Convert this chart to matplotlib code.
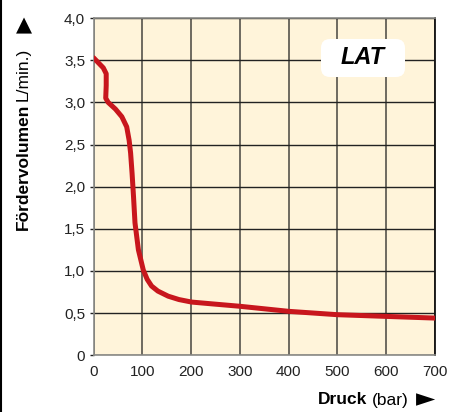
import matplotlib
matplotlib.use("Agg")
import matplotlib.pyplot as plt
from matplotlib.patches import FancyBboxPatch
from matplotlib.lines import Line2D

# data
druck = [0, 10, 20, 26, 26, 25, 30, 45, 58, 68, 73, 76, 79, 82, 85, 92, 102,
         110, 119, 132, 153, 175, 201, 250, 300, 400, 500, 600, 700]
volumen = [3.53, 3.47, 3.41, 3.34, 3.20, 3.05, 3.00, 2.92, 2.83, 2.71, 2.55,
           2.40, 2.16, 1.88, 1.57, 1.25, 1.01, 0.90, 0.82, 0.76, 0.70, 0.66,
           0.63, 0.605, 0.58, 0.52, 0.48, 0.46, 0.44]
xticks = [0, 100, 200, 300, 400, 500, 600, 700]
yticks = [0, 0.5, 1.0, 1.5, 2.0, 2.5, 3.0, 3.5, 4.0]
ytick_labels = ["0", "0,5", "1,0", "1,5", "2,0", "2,5", "3,0", "3,5", "4,0"]

plt.rcParams["font.family"] = ["Liberation Sans", "DejaVu Sans"]

fig = plt.figure(figsize=(4.63, 4.12), dpi=100)
ax = fig.add_axes([0.202, 0.138, 0.7375, 0.818])
ax.set_facecolor("#fff4da")

ax.plot(druck, volumen, color="#c8161d", linewidth=3.6,
        solid_joinstyle="round", solid_capstyle="round", zorder=3)

ax.set_xlim(0, 700)
ax.set_ylim(0, 4.0)
ax.set_xticks(xticks)
ax.set_yticks(yticks)
ax.set_yticklabels(ytick_labels)
ax.tick_params(axis="both", labelsize=11, labelcolor="#222222")
ax.tick_params(axis="x", length=0, pad=7)
ax.tick_params(axis="y", length=3, width=1, color="#222222", pad=3)

ax.grid(axis="y", color="#222222", linewidth=1.0)
ax.grid(axis="x", color="#6e6a60", linewidth=1.4)
for side in ["left", "bottom", "top"]:
    ax.spines[side].set_color("#8a8a86")
    ax.spines[side].set_linewidth(1.2)
ax.spines["right"].set_color("#111111")
ax.spines["right"].set_linewidth(1.3)

# LAT badge
box = FancyBboxPatch((3.21, 3.35), 0.84, 0.38,
                     boxstyle="round,pad=0,rounding_size=0.09",
                     transform=fig.dpi_scale_trans, facecolor="white",
                     edgecolor="none", zorder=4)
ax.add_patch(box)
fig.text(3.63 / 4.63, 3.54 / 4.12, "LAT", fontsize=17,
         fontweight="bold", style="italic", ha="center", va="center",
         zorder=5)

# border line on the left of the figure
fig.add_artist(Line2D([0.002, 0.002], [0, 1], transform=fig.transFigure,
                      color="black", linewidth=1.5))

# axis labels with mixed weights
fig.canvas.draw()
r = fig.canvas.get_renderer()
inv = fig.transFigure.inverted()

t1 = fig.text(23 / 463, 1 - 230 / 412, "Fördervolumen", fontsize=12.5,
              fontweight="bold", rotation=90, ha="center", va="bottom")
bb = inv.transform(t1.get_window_extent(r))
fig.text(23 / 463, bb[1][1] + 3 / 412, "L/min.)", fontsize=12.5,
         rotation=90, ha="center", va="bottom")
fig.text(24 / 463, 1 - 25 / 412, "▲", family="DejaVu Sans", fontsize=15,
         ha="center", va="center")

t3 = fig.text(318 / 463, 1 - 400 / 412, "Druck", fontsize=12.5,
              fontweight="bold", ha="left", va="center")
bb = inv.transform(t3.get_window_extent(r))
fig.text(bb[1][0] + 4 / 463, 1 - 400 / 412, "(bar)", fontsize=12.5,
         ha="left", va="center")
fig.text(426 / 463, 1 - 399 / 412, "►", family="DejaVu Sans", fontsize=18,
         ha="center", va="center")

fig.savefig("out.png", dpi=100)
